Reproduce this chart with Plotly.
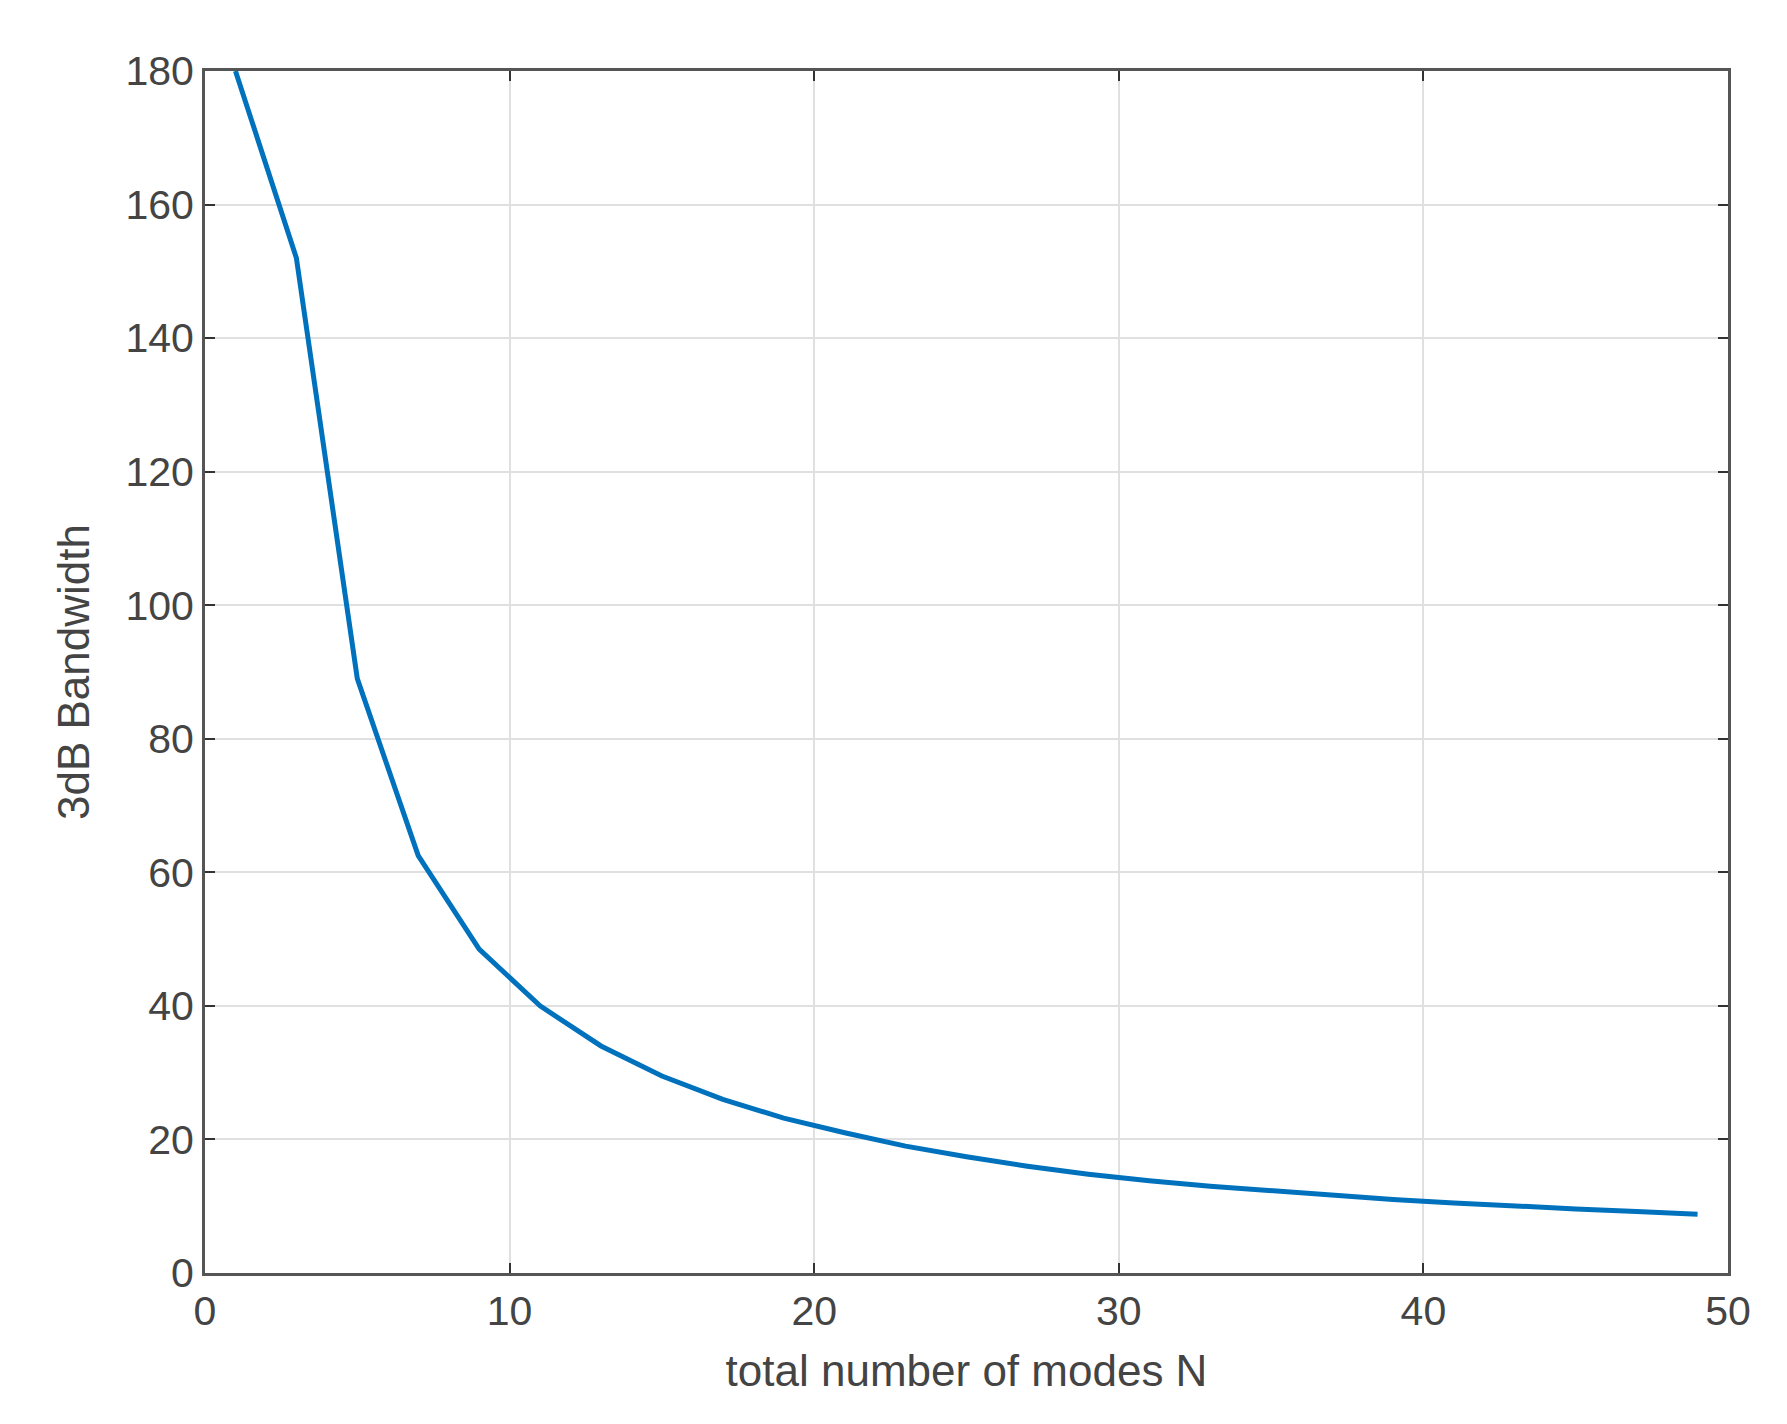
import plotly.graph_objects as go

N = [1, 3, 5, 7, 9, 11, 13, 15, 17, 19, 21, 23, 25, 27, 29, 31, 33, 35, 37, 39, 41, 43, 45, 47, 49]
bandwidth = [180, 152, 89, 62.5, 48.5, 40, 34, 29.5, 26, 23.2, 21, 19, 17.4, 16, 14.8, 13.8, 13, 12.3, 11.6, 11, 10.5, 10, 9.6, 9.2, 8.8]
xticks = [0, 10, 20, 30, 40, 50]
yticks = [0, 20, 40, 60, 80, 100, 120, 140, 160, 180]

fnt = "Liberation Sans"
fig = go.Figure(go.Scatter(x=N, y=bandwidth, mode="lines",
                           line=dict(color="#0072BD", width=5), showlegend=False))
ax = dict(showline=True, linecolor="#555", linewidth=3, mirror="ticks", ticks="inside",
          ticklen=10, tickwidth=2, tickcolor="#333", showgrid=True, gridcolor="#e0e0e0",
          gridwidth=2, zeroline=False, tickfont=dict(size=41, color="#444", family=fnt))
fig.update_xaxes(range=[0, 50], tickvals=xticks,
                 title=dict(text="total number of modes N", font=dict(size=44, color="#444", family=fnt), standoff=22), **ax)
fig.update_yaxes(range=[0, 180], tickvals=yticks,
                 title=dict(text="3dB Bandwidth", font=dict(size=44, color="#444", family=fnt), standoff=22), **ax)
fig.update_layout(width=1787, height=1424, plot_bgcolor="white", paper_bgcolor="white",
                  margin=dict(l=197, r=67, t=63, b=159))
fig.write_html("out.html")
